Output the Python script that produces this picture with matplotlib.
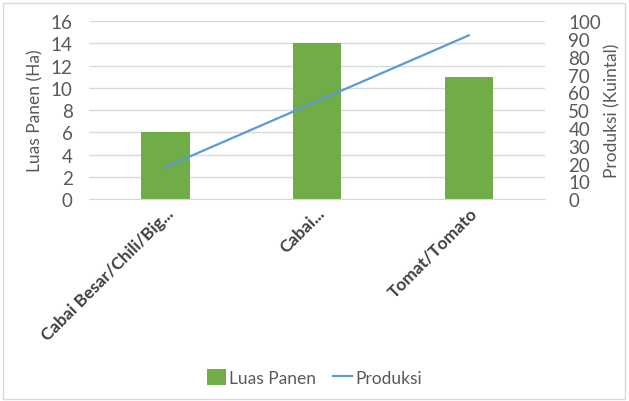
import matplotlib.pyplot as plt
import numpy as np
from matplotlib.patches import Rectangle

categories = ["Cabai Besar/Chili/Big...", "Cabai...", "Tomat/Tomato"]
luas_panen = [6, 14, 11]
produksi = [18, 55, 92]

plt.rcParams["font.family"] = ["Lato", "DejaVu Sans"]
grey = "#595959"

fig = plt.figure(figsize=(6.29, 4.02), dpi=100)
fig.patches.append(Rectangle((0.004, 0.006), 0.99, 0.985, transform=fig.transFigure,
                             fill=False, edgecolor="#d9d9d9", lw=1))
ax = fig.add_axes([0.142, 0.502, 0.724, 0.443])
x = np.arange(len(categories))

ax.bar(x, luas_panen, width=0.32, color="#70ad47", label="Luas Panen", zorder=2)
ax.set_ylim(0, 16)
ax.set_yticks(range(0, 17, 2))
ax.set_xlim(-0.5, 2.5)
ax.grid(axis="y", color="#d9d9d9", lw=1, zorder=0)
for s in ["top", "right", "left"]:
    ax.spines[s].set_visible(False)
ax.spines["bottom"].set_color("#d9d9d9")
ax.tick_params(axis="y", length=0, labelsize=13.5, colors=grey, pad=12)
ax.tick_params(axis="x", length=0, pad=4)
ax.set_xticks(x)
ax.set_xticklabels(categories, rotation=45, ha="right", rotation_mode="anchor",
                   fontsize=12.5, fontweight="bold", color="#404040")
ax.set_ylabel("Luas Panen (Ha)", fontsize=12.5, color=grey, labelpad=5)

ax2 = ax.twinx()
ax2.plot(x, produksi, color="#5b9bd5", lw=1.6, label="Produksi", zorder=3)
ax2.set_ylim(0, 100)
ax2.set_yticks(range(0, 101, 10))
for s in ["top", "right", "left", "bottom"]:
    ax2.spines[s].set_visible(False)
ax2.tick_params(axis="y", length=0, labelsize=13.5, colors=grey, pad=17)
ax2.set_ylabel("Produksi (Kuintal)", fontsize=12.5, color=grey, labelpad=2)

h1, l1 = ax.get_legend_handles_labels()
h2, l2 = ax2.get_legend_handles_labels()
fig.legend(h1 + h2, l1 + l2, loc="center", bbox_to_anchor=(0.5, 0.058), ncol=2,
           frameon=False, fontsize=12.5, labelcolor=grey, handlelength=1.1,
           handleheight=1.0, handletextpad=0.15, columnspacing=1.0)

fig.savefig("out.png", dpi=100)
